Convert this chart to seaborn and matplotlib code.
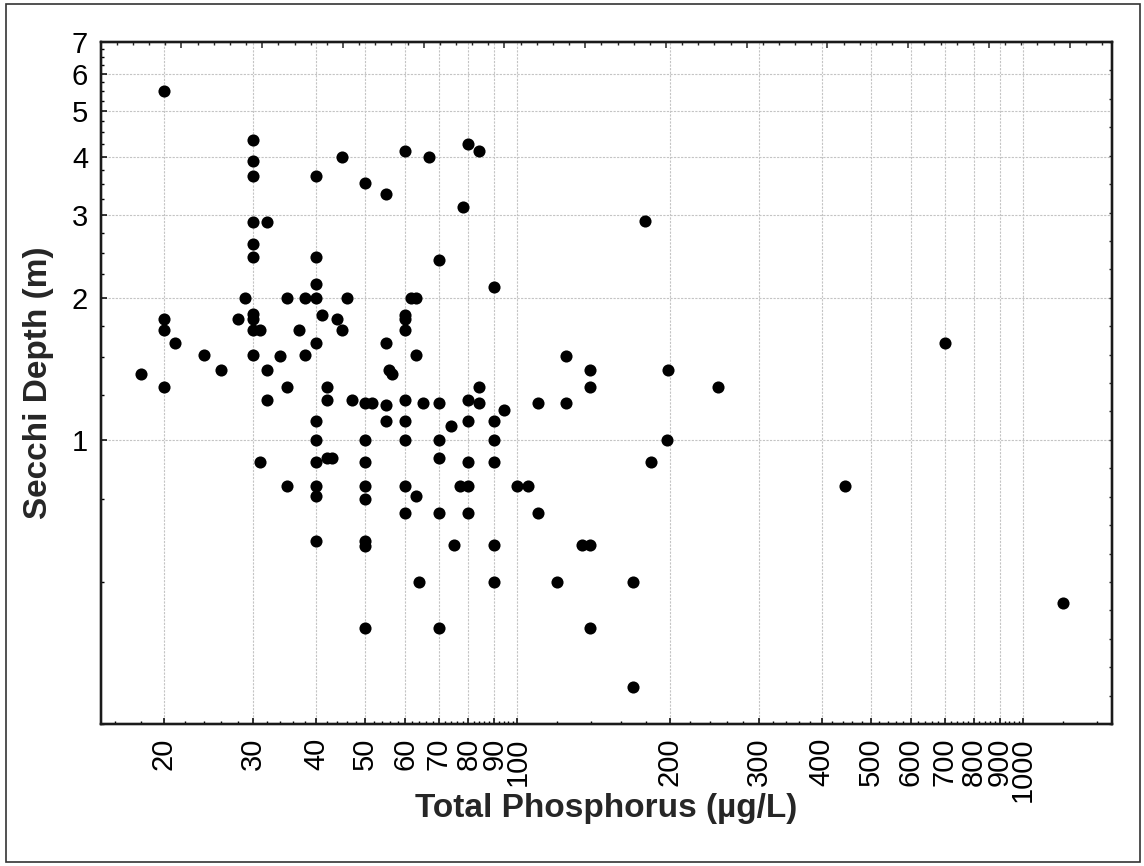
import numpy as np
import pandas as pd
import matplotlib
matplotlib.use("Agg")
import matplotlib.pyplot as plt
import seaborn as sns
from matplotlib.ticker import FixedLocator, FixedFormatter, NullFormatter, MultipleLocator
from matplotlib.patches import Rectangle

# ---- data ----
tp = [18,
      20, 20, 20, 20,
      21, 24, 26, 28, 29,
      30, 30, 30, 30, 30, 30, 30, 30, 30, 30,
      31, 31,
      32, 32, 32,
      34, 35, 35, 35, 37, 38, 38,
      40, 40, 40, 40, 40, 40, 40, 40, 40, 40, 40,
      41, 42, 42, 42, 43, 44, 45, 45, 46, 47,
      50, 50, 50, 50, 50, 50, 50, 50, 50,
      51.5,
      55, 55, 55, 55, 55.8, 56.6,
      60, 60, 60, 60, 60, 60, 60, 60, 60,
      61.5, 63, 63, 63, 64, 65, 67,
      70, 70, 70, 70, 70, 70,
      74, 75, 77, 78,
      80, 80, 80, 80, 80, 80,
      84, 84, 84,
      90, 90, 90, 90, 90, 90,
      94, 100, 105, 110, 110, 120, 125, 125, 134,
      139, 139, 139, 139,
      169, 169, 179, 184, 198, 199, 249, 445, 700, 1200]
secchi = [1.38,
          5.52, 1.81, 1.71, 1.30,
          1.61, 1.52, 1.41, 1.81, 2.0,
          4.34, 3.91, 3.63, 2.91, 2.61, 2.45, 1.85, 1.81, 1.71, 1.52,
          1.71, 0.90,
          2.9, 1.41, 1.22,
          1.51, 2.0, 1.30, 0.80, 1.71, 2.0, 1.52,
          3.63, 2.45, 2.15, 2.0, 1.61, 1.10, 1.0, 0.90, 0.80, 0.76, 0.61,
          1.84, 1.30, 1.22, 0.916, 0.916, 1.81, 4.0, 1.71, 2.0, 1.22,
          3.51, 1.20, 1.0, 0.90, 0.80, 0.75, 0.61, 0.598, 0.40,
          1.20,
          3.33, 1.61, 1.19, 1.10, 1.41, 1.38,
          4.11, 1.84, 1.81, 1.71, 1.22, 1.10, 1.0, 0.80, 0.70,
          2.0, 2.0, 1.52, 0.76, 0.50, 1.20, 4.0,
          2.41, 1.20, 1.0, 0.916, 0.70, 0.40,
          1.07, 0.60, 0.80, 3.13,
          4.25, 1.22, 1.10, 0.90, 0.80, 0.70,
          4.11, 1.30, 1.20,
          2.11, 1.10, 1.0, 0.90, 0.60, 0.50,
          1.16, 0.80, 0.80, 1.20, 0.70, 0.50, 1.51, 1.20, 0.60,
          1.41, 1.30, 0.60, 0.40,
          0.50, 0.30, 2.92, 0.90, 1.0, 1.41, 1.30, 0.80, 1.61, 0.452]

x_major = [20, 30, 40, 50, 60, 70, 80, 90, 100, 200, 300, 400, 500, 600, 700, 800, 900, 1000]
x_labels = ["20", "30", "40", "50", "60", "70", "80", "90", "100",
            "200", "300", "400", "500", "600", "700", "800", "900", "1000"]
y_major = [1, 2, 3, 4, 5, 6, 7]
y_labels = ["1", "2", "3", "4", "5", "6", "7"]

df = pd.DataFrame({"tp": tp, "secchi": secchi})

sns.set_style("white")
plt.rcParams["font.family"] = ["Liberation Sans", "DejaVu Sans"]

W, H = 1144, 866
fig = plt.figure(figsize=(W / 100, H / 100), dpi=100)
L, R, T, B = 100.7, 1112, 42, 724
ax = fig.add_axes([L / W, 1 - B / H, (R - L) / W, (B - T) / H])

sns.scatterplot(data=df, x="tp", y="secchi", ax=ax, color="black",
                s=76, linewidth=0, zorder=3)

ax.set_xscale("log")
ax.set_yscale("log")
ax.set_xlim(15, 1500)
ax.set_ylim(0.25, 7)

# x ticks
x_minor = [v for v in list(range(16, 100, 2)) + list(range(120, 1000, 20)) + [1200, 1400]
           if v not in x_major]
ax.xaxis.set_major_locator(FixedLocator(x_major))
ax.xaxis.set_major_formatter(FixedFormatter(x_labels))
ax.xaxis.set_minor_locator(FixedLocator(x_minor))
ax.xaxis.set_minor_formatter(NullFormatter())

# y ticks
y_minor = [v for v in np.arange(0.25, 7.01, 0.25) if abs(v - round(v)) > 1e-9]
ax.yaxis.set_major_locator(FixedLocator(y_major))
ax.yaxis.set_major_formatter(FixedFormatter(y_labels))
ax.yaxis.set_minor_locator(FixedLocator(y_minor))
ax.yaxis.set_minor_formatter(NullFormatter())

ax.tick_params(axis="both", which="major", direction="in", length=4.5, width=1.1,
               color="black", labelsize=21, labelcolor="black")
ax.tick_params(axis="both", which="minor", direction="in", length=2.5, width=1.0,
               color="black")
ax.tick_params(axis="x", which="major", labelrotation=90, pad=10)
ax.tick_params(axis="y", which="major", pad=9)

ax.grid(True, which="major", color="#c4c4c4", linestyle=(0, (2, 1.2)), linewidth=0.8)
ax.set_axisbelow(True)

for sp in ax.spines.values():
    sp.set_color("#1a1a1a")
    sp.set_linewidth(1.6)

ax.set_xlabel("Total Phosphorus (µg/L)", fontsize=24, fontweight="bold")
ax.set_ylabel("Secchi Depth (m)", fontsize=24, fontweight="bold")
ax.xaxis.label.set_va("center")
ax.yaxis.label.set_va("center")
ax.xaxis.set_label_coords(0.5, (B - 809) / (B - T))
ax.yaxis.set_label_coords((39 - L) / (R - L), 0.5)

# top and right frame ticks (evenly spaced, as in the reference)
top = ax.twiny()
top.set_xlim(0, (R - L) / 16.15)
top.xaxis.set_major_locator(MultipleLocator(5))
top.xaxis.set_minor_locator(MultipleLocator(1))
top.xaxis.set_major_formatter(NullFormatter())
top.tick_params(axis="x", which="major", direction="in", length=4.5, width=1.1)
top.tick_params(axis="x", which="minor", direction="in", length=2.5, width=1.0)
top.grid(False)

right = ax.twinx()
right.set_ylim(0, 24)
right.yaxis.set_major_locator(MultipleLocator(1))
right.yaxis.set_major_formatter(NullFormatter())
right.tick_params(axis="y", which="major", direction="in", length=2.5, width=1.0)
right.grid(False)
for a in (top, right):
    for sp in a.spines.values():
        sp.set_color("#1a1a1a")
        sp.set_linewidth(1.6)

# figure border
fig.patches.append(Rectangle((6 / W, 4 / H), (1140 - 6) / W, (862 - 4) / H,
                             transform=fig.transFigure, fill=False,
                             edgecolor="#333333", linewidth=1.2))

fig.savefig("out.png", dpi=100)
